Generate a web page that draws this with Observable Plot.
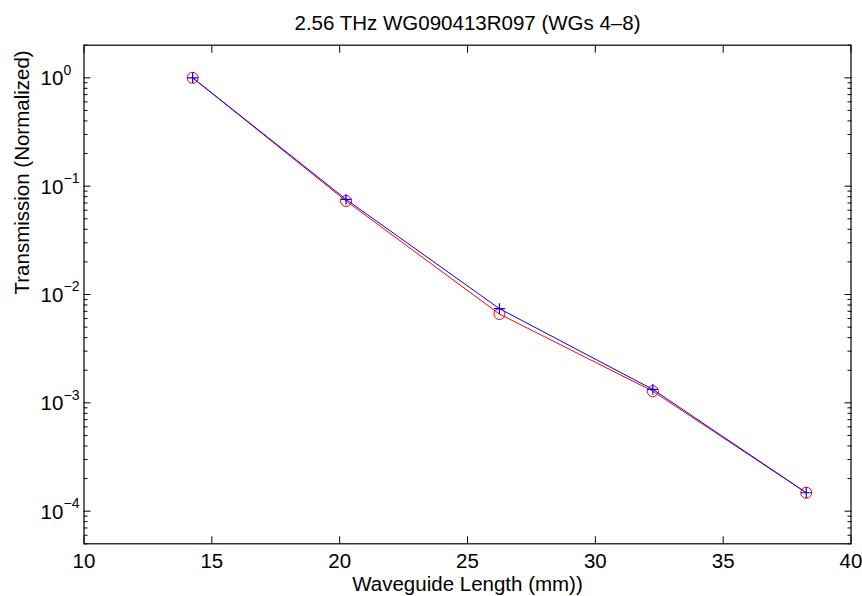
<!DOCTYPE html>
<html>
<head>
<meta charset="utf-8">
<script src="https://cdn.jsdelivr.net/npm/d3@7"></script>
<script src="https://cdn.jsdelivr.net/npm/@observablehq/plot@0.6"></script>
<style>
  html, body { margin: 0; padding: 0; background: white; }
</style>
</head>
<body>
<div id="chart"></div>
<script>
const title = "2.56 THz WG090413R097 (WGs 4\u20138)";
const xLabel = "Waveguide Length (mm))";
const yLabel = "Transmission (Normalized)";

const lengths = [14.25, 20.25, 26.25, 32.25, 38.25];
const redSeries = [1, 0.073, 0.0066, 0.00128, 0.000148];
const blueSeries = [1, 0.0755, 0.0074, 0.00133, 0.000148];

const xTicks = [10, 15, 20, 25, 30, 35, 40];
const yMajorTicks = [1, 0.1, 0.01, 0.001, 0.0001];
const yExponents = ["0", "\u22121", "\u22122", "\u22123", "\u22124"];
const yMinorTicks = [];
for (let e = -5; e <= 0; e++) {
  for (let m = 2; m <= 9; m++) {
    const v = m * Math.pow(10, e);
    if (v >= 5e-5 && v <= 2) yMinorTicks.push(+v.toPrecision(3));
  }
}

const red = lengths.map((x, i) => ({x, y: redSeries[i]}));
const blue = lengths.map((x, i) => ({x, y: blueSeries[i]}));
const majors = yMajorTicks.map((v, i) => ({v, exp: yExponents[i]}));

const font = "Liberation Sans, Arial, Helvetica, sans-serif";
const fs = 20.5;

const chart = Plot.plot({
  width: 862,
  height: 596,
  marginLeft: 83.5,
  marginRight: 11.5,
  marginTop: 44.7,
  marginBottom: 52.7,
  style: {fontFamily: font, fontSize: fs + "px", background: "white", color: "black"},
  x: {domain: [10, 40], axis: null},
  y: {type: "log", domain: [5e-5, 2], axis: null},
  marks: [
    Plot.axisX({anchor: "bottom", ticks: xTicks, tickSize: -7, tickFormat: () => "", label: null, stroke: "black"}),
    Plot.axisX({anchor: "top", ticks: xTicks, tickSize: -7, tickFormat: () => "", label: null, stroke: "black"}),
    Plot.axisX({anchor: "bottom", ticks: xTicks, tickSize: 0, tickPadding: 9.5, tickFormat: d => String(d), label: null, fontSize: fs, fill: "black"}),
    Plot.axisY({anchor: "left", ticks: yMajorTicks, tickSize: -7, tickFormat: () => "", label: null, stroke: "black"}),
    Plot.axisY({anchor: "right", ticks: yMajorTicks, tickSize: -7, tickFormat: () => "", label: null, stroke: "black"}),
    Plot.axisY({anchor: "left", ticks: yMinorTicks, tickSize: -4, tickFormat: () => "", label: null, stroke: "black"}),
    Plot.axisY({anchor: "right", ticks: yMinorTicks, tickSize: -4, tickFormat: () => "", label: null, stroke: "black"}),
    Plot.text(majors, {y: "v", text: () => "10", frameAnchor: "left", textAnchor: "start", dx: -43.5, dy: 0.8, fontSize: fs, fill: "black"}),
    Plot.text(majors, {y: "v", text: "exp", frameAnchor: "left", textAnchor: "start", dx: -20.5, dy: -7.6, fontSize: 14, fill: "black"}),
    Plot.line(red, {x: "x", y: "y", stroke: "#ff0000", strokeWidth: 1}),
    Plot.dot(red, {x: "x", y: "y", r: 5.5, stroke: "#ff0000", strokeWidth: 1, fill: "none"}),
    Plot.line(blue, {x: "x", y: "y", stroke: "#0000ff", strokeWidth: 1}),
    Plot.dot(blue, {x: "x", y: "y", r: 3.6, symbol: "plus", stroke: "#0000ff", strokeWidth: 1.2}),
    Plot.frame({stroke: "black", strokeWidth: 1.2}),
    Plot.text([title], {frameAnchor: "top", lineAnchor: "bottom", dy: -15.4, fontSize: fs, fill: "black"}),
    Plot.text([xLabel], {frameAnchor: "bottom", lineAnchor: "bottom", dy: 47.4, fontSize: fs, fill: "black"}),
    Plot.text([yLabel], {frameAnchor: "left", rotate: -90, lineAnchor: "bottom", dx: -55.5, fontSize: fs, fill: "black"})
  ]
});
document.getElementById("chart").appendChild(chart);
</script>
</body>
</html>
